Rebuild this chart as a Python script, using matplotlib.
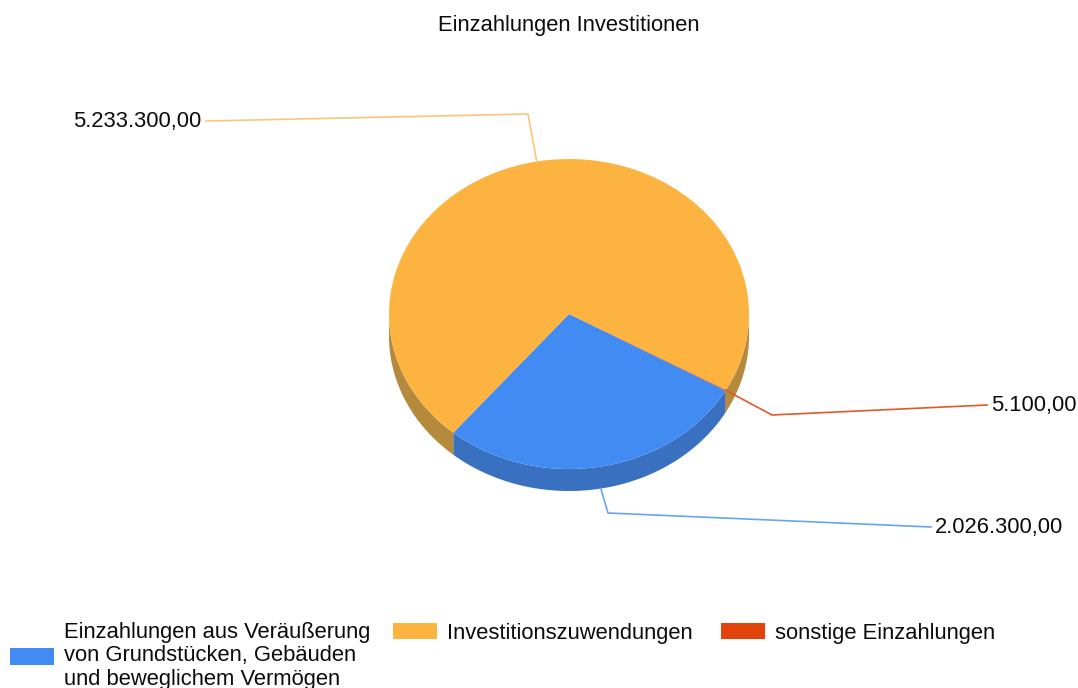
import numpy as np
import matplotlib
matplotlib.use("Agg")
import matplotlib.pyplot as plt
from matplotlib.patches import Rectangle

title = "Einzahlungen Investitionen"
categories = ["Einzahlungen aus Veräußerung\nvon Grundstücken, Gebäuden\nund beweglichem Vermögen",
              "Investitionszuwendungen", "sonstige Einzahlungen"]
values = [2026300.0, 5233300.0, 5100.0]
value_labels = ["2.026.300,00", "5.233.300,00", "5.100,00"]
colors = ["#418BF2", "#FDB33F", "#E2430A"]
side_colors = ["#3A70C0", "#B68A3C", "#A8481E"]
line_colors = ["#6AA5F3", "#FCC676", "#E4572A"]

W, H = 1078, 688
plt.rcParams["font.family"] = ["Liberation Sans", "DejaVu Sans"]
fig = plt.figure(figsize=(W / 100, H / 100), dpi=100, facecolor="white")

# pie geometry in pixels
cx, cy, rx, ry, depth = 569.0, 314.0, 180.0, 155.0, 22.0
start = -29.6
FS = 15.85
TXT = "#0c0c0c"

# overlay in pixel coordinates
ov = fig.add_axes([0, 0, 1, 1], zorder=3)
ov.set_xlim(0, W); ov.set_ylim(H, 0); ov.axis("off"); ov.patch.set_alpha(0)

# side wall (drawn under the top face); slices run clockwise
base = fig.add_axes([0, 0, 1, 1], zorder=1)
base.set_xlim(0, W); base.set_ylim(H, 0); base.axis("off")
shares = np.array(values) / sum(values) * 360.0
edges = start - np.concatenate([[0], np.cumsum(shares)])
for a0, a1, c in zip(edges[:-1], edges[1:], side_colors):
    for shift in (0.0, 360.0):
        l, h = max(a1 + shift, -180.0), min(a0 + shift, 0.0)
        if h <= l:
            continue
        t = np.radians(np.linspace(l, h, 80))
        x = cx + rx * np.cos(t)
        y = cy - ry * np.sin(t)
        base.fill(np.r_[x, x[::-1]], np.r_[y, y[::-1] + depth], color=c, lw=0)

# top face
top = fig.add_axes([(cx - rx) / W, 1 - (cy + ry) / H, 2 * rx / W, 2 * ry / H], zorder=2)
top.pie(values, colors=colors, startangle=start, counterclock=False, radius=1.0,
        wedgeprops=dict(linewidth=0))
top.set_aspect("auto")
top.set_xlim(-1, 1); top.set_ylim(-1, 1)
top.patch.set_alpha(0)

# leader lines: anchor on the mid angle of each slice, then elbow and end
elbows = [(608, 513), (528, 114), (772, 415)]
ends = [(931, 527), (206, 121), (987, 405)]
text_pos = [(935, 528, "left"), (201, 122, "right"), (991, 406, "left")]
mids = (edges[:-1] + edges[1:]) / 2
for i, m in enumerate(mids):
    t = np.radians(m)
    ax_ = cx + rx * np.cos(t)
    ay_ = cy - ry * np.sin(t) + (depth if np.sin(t) < -0.9 else 0)
    ov.plot([ax_, elbows[i][0], ends[i][0]], [ay_, elbows[i][1], ends[i][1]],
            color=line_colors[i], lw=1.2, solid_joinstyle="miter")
    ov.text(text_pos[i][0], text_pos[i][1], value_labels[i], ha=text_pos[i][2], va="center",
            fontsize=FS, color=TXT)

ov.text(569, 25, title, ha="center", va="center", fontsize=FS, color=TXT)

# legend: three entries with own vertical anchoring, as in the reference
anchors = [(10, 656), (393, 633), (721, 633)]
for c, lab, (x, y) in zip(colors, categories, anchors):
    h = Rectangle((0, 0), 1, 1, facecolor=c, edgecolor="none")
    leg = ov.legend([h], [lab], loc="center left", bbox_to_anchor=(x / W, 1 - y / H),
                    bbox_transform=fig.transFigure, frameon=False, borderpad=0, borderaxespad=0,
                    fontsize=FS, handlelength=2.0, handleheight=0.78, handletextpad=0.45,
                    labelspacing=0, labelcolor=TXT)
    leg.get_texts()[0].set_linespacing(1.13)
    ov.add_artist(leg)
    ov.legend_ = None

fig.savefig("out.png", dpi=100, facecolor="white")
